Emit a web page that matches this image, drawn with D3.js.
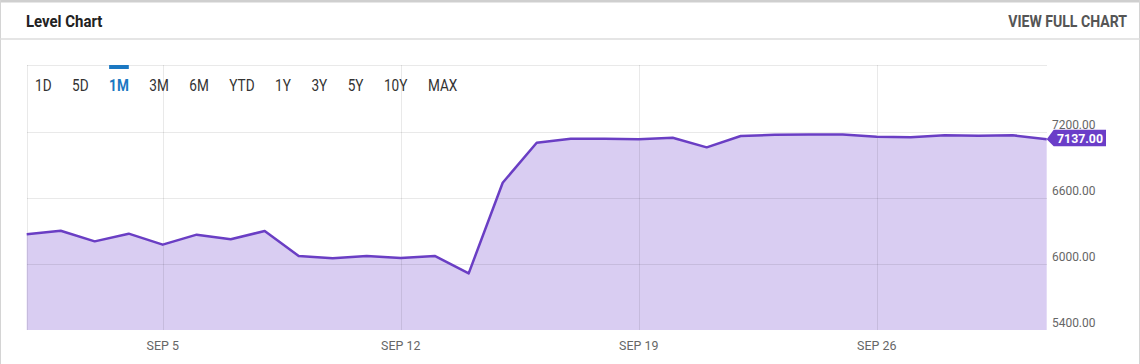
<!DOCTYPE html>
<html>
<head>
<meta charset="utf-8">
<script src="https://cdn.jsdelivr.net/npm/d3@7"></script>
<style>
  html, body { margin: 0; padding: 0; background: #fff; }
  svg { display: block; font-family: Roboto, "Noto Sans", sans-serif; }
</style>
</head>
<body>
<div id="chart"></div>
<script>
// data
const dates = [
  "2019-09-01", "2019-09-02", "2019-09-03", "2019-09-04", "2019-09-05", "2019-09-06",
  "2019-09-07", "2019-09-08", "2019-09-09", "2019-09-10", "2019-09-11", "2019-09-12",
  "2019-09-13", "2019-09-14", "2019-09-15", "2019-09-16", "2019-09-17", "2019-09-18",
  "2019-09-19", "2019-09-20", "2019-09-21", "2019-09-22", "2019-09-23", "2019-09-24",
  "2019-09-25", "2019-09-26", "2019-09-27", "2019-09-28", "2019-09-29", "2019-09-30",
  "2019-10-01"
];
const levels = [
  6271, 6304, 6207, 6277, 6177, 6268, 6226, 6301, 6074, 6053, 6074, 6056, 6074, 5916,
  6741, 7105, 7142, 7142, 7136, 7151, 7063, 7166, 7178, 7180, 7180, 7160, 7155, 7173,
  7168, 7173, 7137
];
const yTicks = [5400, 6000, 6600, 7200];
const xTicks = ["2019-09-05", "2019-09-12", "2019-09-19", "2019-09-26"];
const periods = ["1D", "5D", "1M", "3M", "6M", "YTD", "1Y", "3Y", "5Y", "10Y", "MAX"];
const activePeriod = "1M";

const width = 1140, height = 364;
const plot = { left: 26.7, right: 1046.7, top: 65, bottom: 330 };
const lineColor = "#6a3ec4";
const fillColor = "#d9cdf2";
const blue = "#1b78c2";
const cond = 0.88;   // fake a condensed face

const parse = d3.timeParse("%Y-%m-%d");
const data = dates.map((d, i) => ({ date: parse(d), value: levels[i] }));

const svg = d3.select("#chart").append("svg")
    .attr("width", width)
    .attr("height", height)
    .attr("viewBox", [0, 0, width, height]);

// panel borders
svg.append("rect").attr("x", 0).attr("y", 0).attr("width", width).attr("height", 2.5).attr("fill", "#cfcfcf");
svg.append("line").attr("x1", 0.5).attr("x2", 0.5).attr("y1", 0).attr("y2", height).attr("stroke", "#d4d4d4");
svg.append("line").attr("x1", width - 0.5).attr("x2", width - 0.5).attr("y1", 0).attr("y2", height).attr("stroke", "#d4d4d4");
svg.append("line").attr("x1", 0).attr("x2", width).attr("y1", 39).attr("y2", 39)
    .attr("stroke", "#dcdcdc").attr("stroke-width", 1.5);

function label(g, x, y, s, scale) {
  return g.append("text")
      .attr("transform", `translate(${x},${y}) scale(${scale || cond},1)`)
      .text(s);
}

// header
label(svg, 26, 27, "Level Chart")
    .attr("font-size", 17).attr("font-weight", 700).attr("fill", "#222");
label(svg, 1127, 27, "VIEW FULL CHART")
    .attr("font-size", 16).attr("font-weight", 700).attr("fill", "#555")
    .attr("text-anchor", "end");

// scales
const x = d3.scaleTime()
    .domain(d3.extent(data, d => d.date))
    .range([plot.left, plot.right]);
const y = d3.scaleLinear()
    .domain([5400, 7200])
    .range([plot.bottom, 132.3]);

// area + line
svg.append("path")
    .datum(data)
    .attr("fill", fillColor)
    .attr("d", d3.area().x(d => x(d.date)).y0(plot.bottom).y1(d => y(d.value)));

// grid
const grid = svg.append("g").attr("stroke", "#000").attr("stroke-opacity", 0.085).attr("shape-rendering", "crispEdges");
grid.selectAll(".h").data(yTicks.slice(1)).enter().append("line")
    .attr("x1", plot.left).attr("x2", plot.right)
    .attr("y1", d => Math.round(y(d)) + 0.5).attr("y2", d => Math.round(y(d)) + 0.5);
grid.selectAll(".v").data(xTicks).enter().append("line")
    .attr("x1", d => Math.round(x(parse(d))) + 0.5).attr("x2", d => Math.round(x(parse(d))) + 0.5)
    .attr("y1", plot.top).attr("y2", plot.bottom);
grid.append("line")
    .attr("x1", plot.left).attr("x2", plot.right)
    .attr("y1", plot.top + 0.5).attr("y2", plot.top + 0.5);
grid.append("line")
    .attr("x1", Math.round(plot.left) + 0.5).attr("x2", Math.round(plot.left) + 0.5)
    .attr("y1", plot.top).attr("y2", plot.bottom);

svg.append("path")
    .datum(data)
    .attr("fill", "none")
    .attr("stroke", lineColor)
    .attr("stroke-width", 2.5)
    .attr("stroke-linejoin", "round")
    .attr("d", d3.line().x(d => x(d.date)).y(d => y(d.value)));

// y labels on the right
const yLab = svg.append("g").attr("font-size", 13).attr("fill", "#666");
yTicks.forEach(t => label(yLab, 1052, y(t) - 3, d3.format(".2f")(t), 0.92));

// x labels
const fmt = d3.timeFormat("%b %-d");
const xLab = svg.append("g").attr("font-size", 13.5).attr("fill", "#666").attr("text-anchor", "middle");
xTicks.forEach(t => label(xLab, x(parse(t)), 350, fmt(parse(t)).toUpperCase(), 0.92));

// last value badge
const last = data[data.length - 1];
const bx = x(last.date), by = y(last.value);
svg.append("path")
    .attr("fill", "#6a3dc8")
    .attr("d", `M${bx},${by}L${bx + 7},${by - 9.5}L${1106},${by - 9.5}L${1106},${by + 7}L${bx + 7},${by + 7}Z`);
label(svg, 1057, by + 3.5, d3.format(".2f")(last.value), 0.95)
    .attr("font-size", 13).attr("font-weight", 700).attr("fill", "#fff");

// period buttons
const btn = svg.append("g").attr("font-size", 16);
let bxPos = 35;
periods.forEach(p => {
  const active = p === activePeriod;
  const t = label(btn, bxPos, 90.5, p, 0.85)
      .attr("fill", active ? blue : "#333")
      .attr("font-weight", active ? 700 : 400);
  const w = t.node().getComputedTextLength() * 0.85;
  if (active) {
    btn.append("rect").attr("x", bxPos).attr("y", 65).attr("width", w).attr("height", 4).attr("fill", blue);
  }
  bxPos += w + 20.5;
});
</script>
</body>
</html>
